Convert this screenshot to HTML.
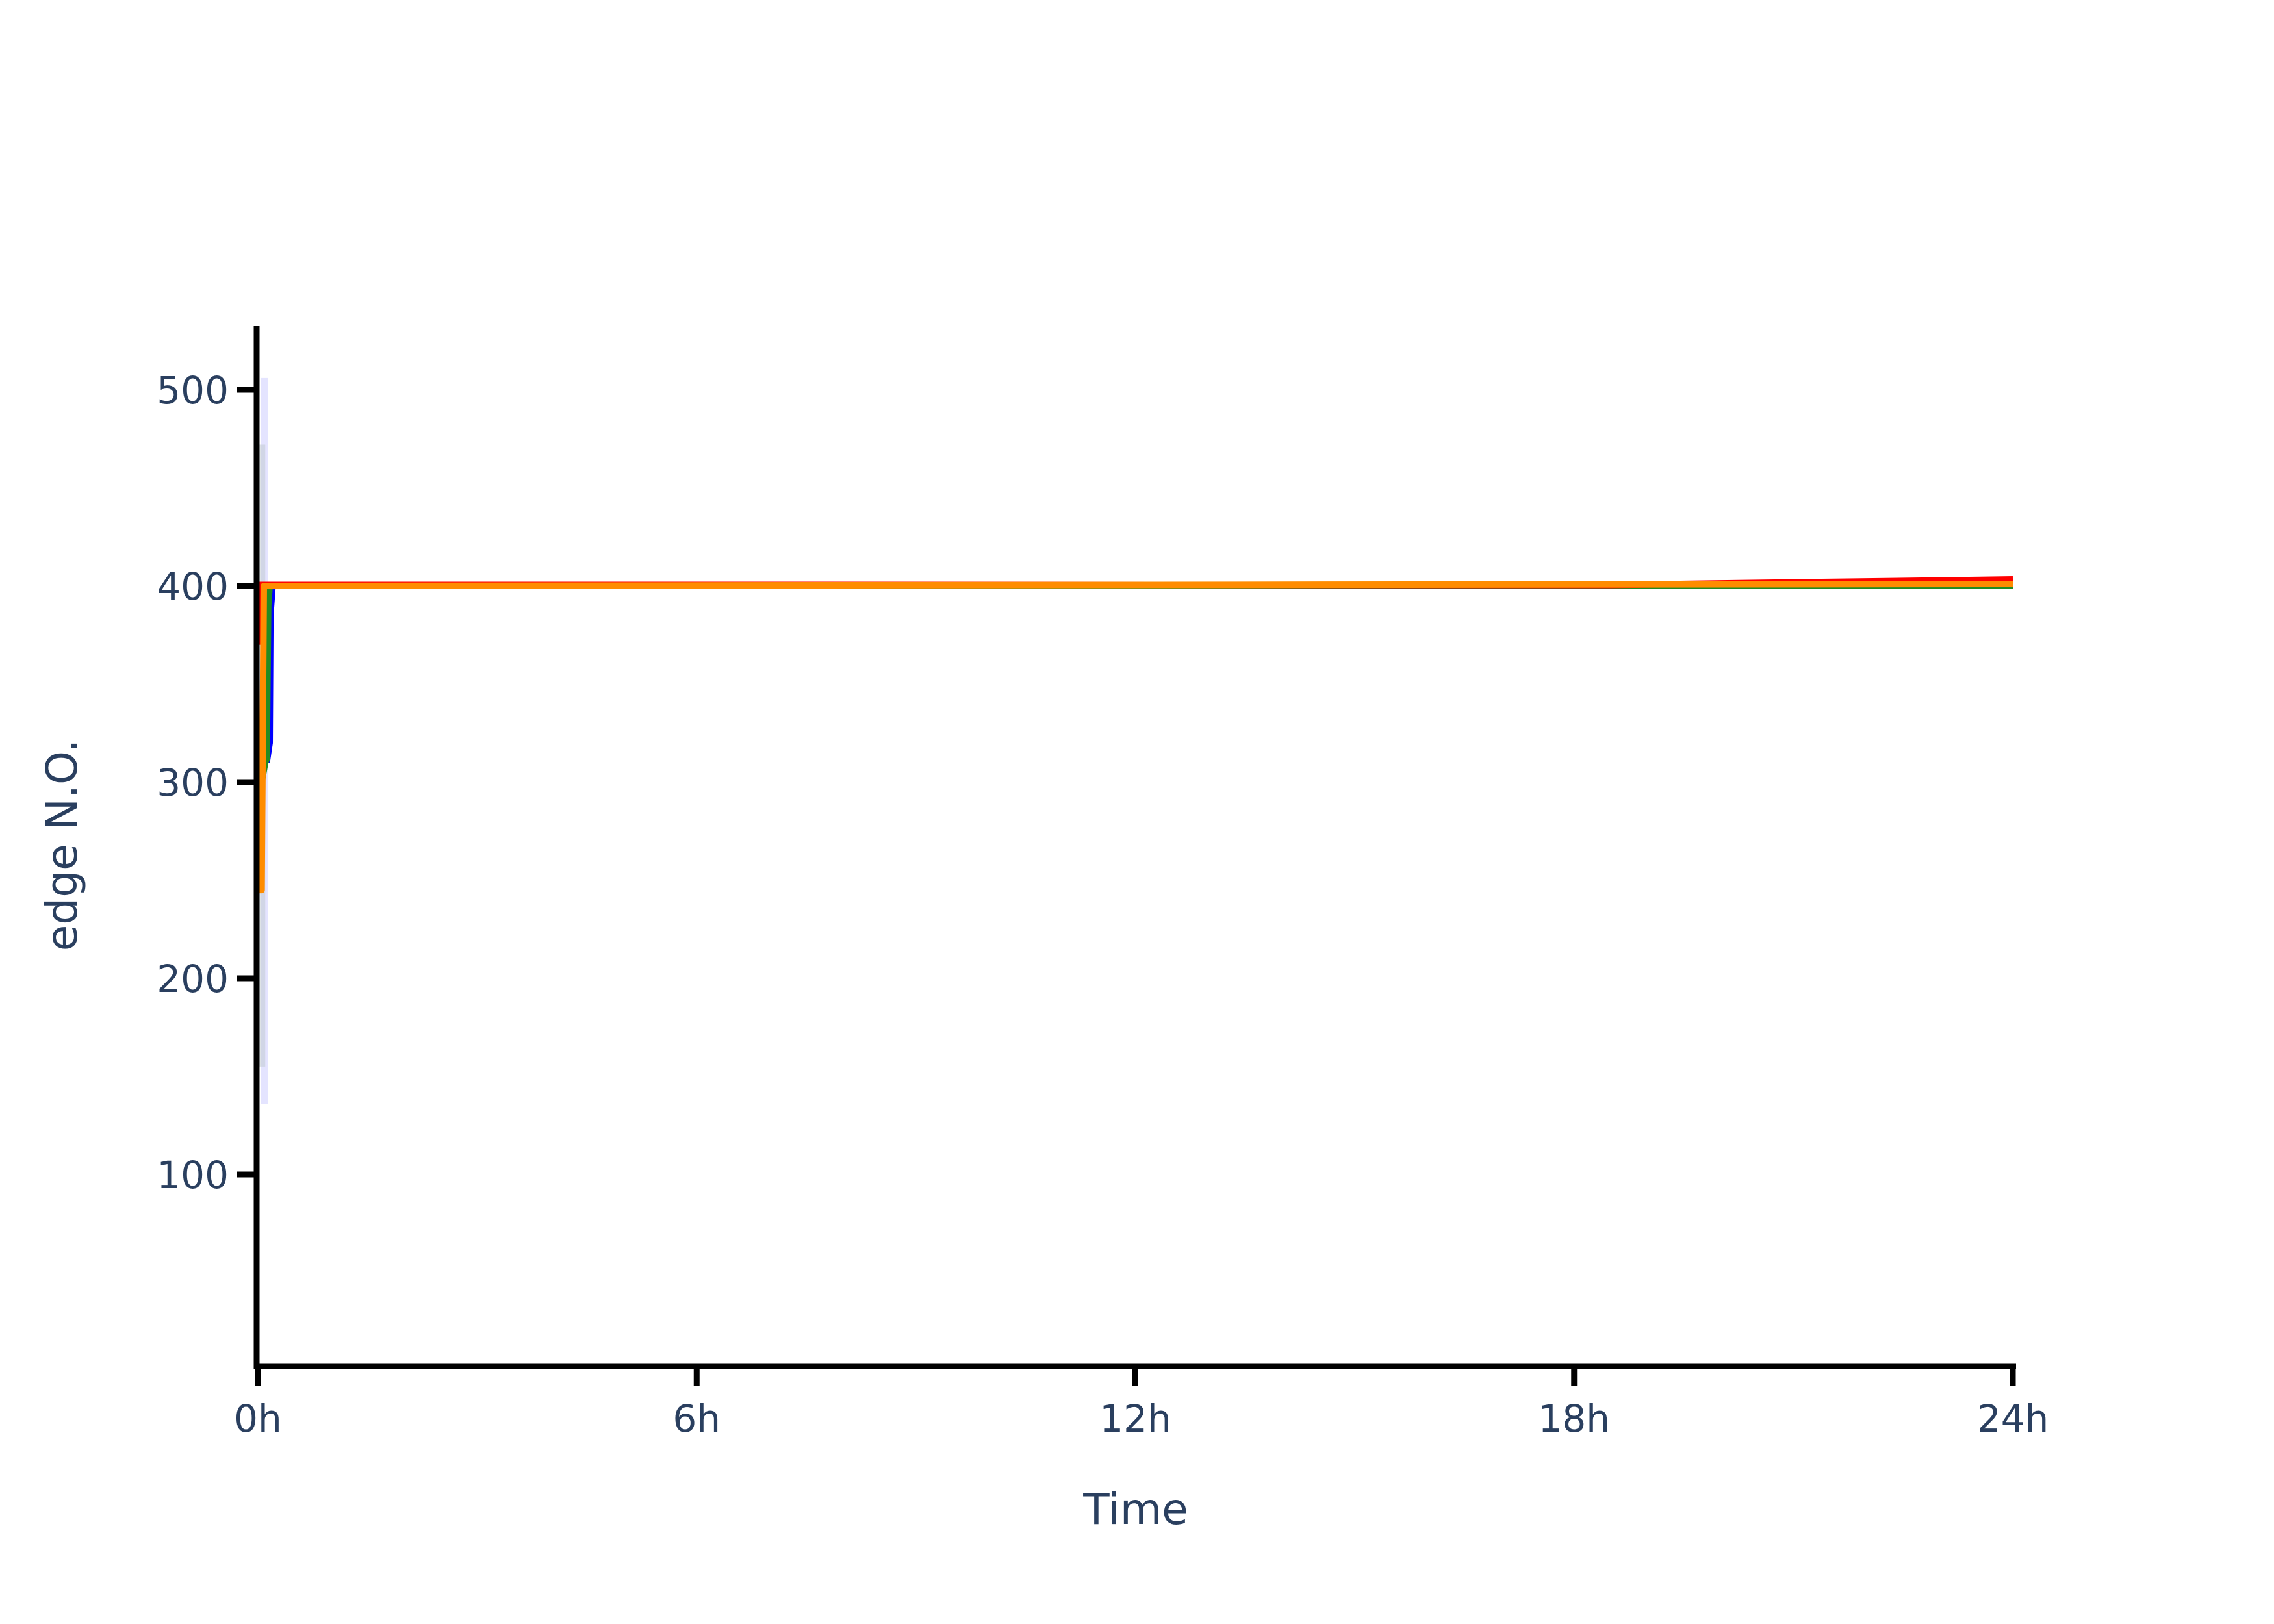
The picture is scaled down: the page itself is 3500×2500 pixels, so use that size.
<!DOCTYPE html>
<html><head><meta charset="utf-8"><style>
html,body{margin:0;padding:0;background:#fff;}
svg{display:block;font-family:"DejaVu Sans","Liberation Sans",sans-serif;}
</style></head><body>
<svg id="chart" width="3500" height="2500" viewBox="0 0 3500 2500" xmlns="http://www.w3.org/2000/svg">
<rect x="0" y="0" width="3500" height="2500" fill="#fff"/>
<g id="bands"></g>
<g id="series"></g>
<g id="axes"></g>
<text x="1748" y="2346" font-size="66" fill="#2a3f5f" text-anchor="middle">Time</text>
<text transform="translate(118,1301) rotate(-90)" font-size="66" fill="#2a3f5f" text-anchor="middle">edge N.O.</text>
</svg>
<script>
const xTicks=[0,6,12,18,24];
const xTickLabels=["0h","6h","12h","18h","24h"];
const yTicks=[100,200,300,400,500];
const yTickLabels=["100","200","300","400","500"];
const blueT=[0.12,0.16,0.17,0.2,24];
const blueV=[310,320,385,400,400.5];
const greenT=[0.05,0.1,0.12,0.14,0.16,24];
const greenV=[300,310,312,390,400,400];
const redT=[0,0.02,18.5,24];
const redV=[370,400.5,400.5,403.3];
const orangeT=[0,0.05,0.08,24];
const orangeV=[245,245,400,401];
const outerBandT=[0.04,0.14];
const outerBandLo=[136,136];
const outerBandHi=[506,506];
const innerBandT=[0.02,0.1];
const innerBandLo=[155,155];
const innerBandHi=[472,472];

const NS="http://www.w3.org/2000/svg";
const X0=397,X1=3098,Y400=902,PPU=3.02,AXY=2103;
const xs=t=>X0+(X1-X0)*t/24;
const ys=v=>Y400-(v-400)*PPU;
function mk(tag,attrs,parent){const e=document.createElementNS(NS,tag);for(const k in attrs)e.setAttribute(k,attrs[k]);parent.appendChild(e);return e;}
const bands=document.getElementById('bands'),series=document.getElementById('series'),axes=document.getElementById('axes');

function band(T,lo,hi,fill,name){
  let d="M"+T.map((t,i)=>xs(t)+","+ys(hi[i])).join("L");
  for(let i=T.length-1;i>=0;i--)d+="L"+xs(T[i])+","+ys(lo[i]);
  const p=mk('path',{d:d+"Z",fill:fill},bands);
  
  
}
band(outerBandT,outerBandLo,outerBandHi,"rgba(205,205,255,0.55)","outer-band");
band(innerBandT,innerBandLo,innerBandHi,"rgba(190,200,205,0.5)","inner-band");

function line(T,V,color,name){
  const p=mk('path',{d:"M"+T.map((t,i)=>xs(t)+","+ys(V[i])).join("L"),fill:"none",stroke:color,"stroke-width":10,"stroke-linejoin":"round"},series);
  
  
}
line(blueT,blueV,"#0000ff","blue-series");
line(greenT,greenV,"#228b22","green-series");
line(redT,redV,"#ff0000","red-series");
line(orangeT,orangeV,"#ff8c00","orange-series");

const xl=mk('line',{x1:X0-5,x2:X1+5,y1:AXY,y2:AXY,stroke:"#000","stroke-width":9},axes);


const yl=mk('line',{x1:395,x2:395,y1:502,y2:AXY+4,stroke:"#000","stroke-width":9},axes);


xTicks.forEach((t,i)=>{
  const tk=mk('line',{x1:xs(t),x2:xs(t),y1:AXY+4,y2:AXY+30,stroke:"#000","stroke-width":9},axes);
  
  
  const lb=mk('text',{x:xs(t),y:2204,"font-size":58,fill:"#2a3f5f","text-anchor":"middle"},axes);
  lb.textContent=xTickLabels[i];
  
  
});
yTicks.forEach((v,i)=>{
  const tk=mk('line',{x1:365,x2:395,y1:ys(v),y2:ys(v),stroke:"#000","stroke-width":9},axes);
  
  
  const lb=mk('text',{x:352,y:ys(v)+21,"font-size":58,fill:"#2a3f5f","text-anchor":"end"},axes);
  lb.textContent=yTickLabels[i];
  
  
});
</script>
</body></html>
